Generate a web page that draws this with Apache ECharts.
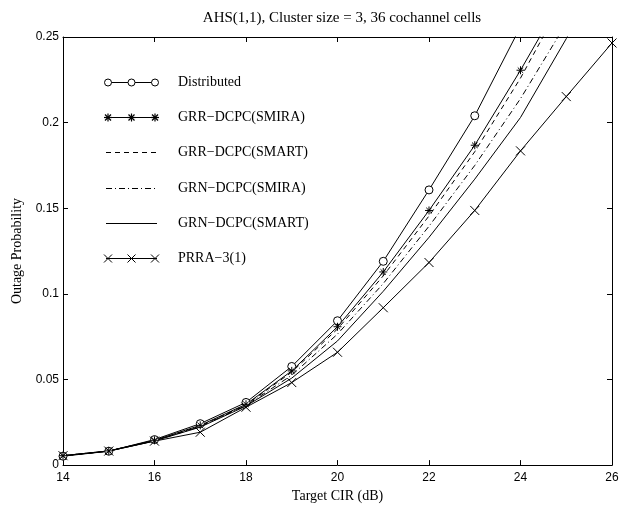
<!DOCTYPE html>
<html>
<head>
<meta charset="utf-8">
<script src="https://cdn.jsdelivr.net/npm/echarts@6/dist/echarts.min.js"></script>
<style>
html,body{margin:0;padding:0;background:#fff;}
#c{width:624px;height:508px;}
</style>
</head>
<body>
<div id="c"></div>
<script>
// ---- data ----
var cir = [14, 15, 16, 17, 18, 19, 20, 21, 22, 23, 24, 25, 26];
var xTicks = [14, 16, 18, 20, 22, 24, 26];
var yTicks = ['0', '0.05', '0.1', '0.15', '0.2', '0.25'];
var seriesNames = ['Distributed', 'GRR\u2212DCPC(SMIRA)', 'GRR\u2212DCPC(SMART)', 'GRN\u2212DCPC(SMIRA)', 'GRN\u2212DCPC(SMART)', 'PRRA\u22123(1)'];
var distributed = [0.0052, 0.0081, 0.0149, 0.0242, 0.0366, 0.0576, 0.0843, 0.119, 0.1607, 0.204, 0.256];
var grrSmira = [0.0055, 0.0083, 0.0145, 0.0232, 0.0355, 0.055, 0.0808, 0.1128, 0.1487, 0.1868, 0.2306, 0.277];
var grrSmart = [0.0055, 0.0083, 0.0143, 0.0228, 0.0352, 0.0543, 0.0795, 0.1105, 0.1455, 0.183, 0.226, 0.275];
var grnSmira = [0.0054, 0.0082, 0.0142, 0.0225, 0.0348, 0.0525, 0.0765, 0.106, 0.1395, 0.175, 0.214, 0.258];
var grnSmart = [0.0054, 0.0082, 0.0141, 0.0222, 0.0345, 0.0508, 0.0725, 0.1015, 0.133, 0.167, 0.203, 0.249, 0.30];
var prra = [0.0055, 0.0082, 0.014, 0.0192, 0.0338, 0.0482, 0.0659, 0.0919, 0.1183, 0.1487, 0.1835, 0.2152, 0.2465];

function pairs(vals) { return vals.map(function (v, i) { return [cir[i], v]; }); }

var STAR = 'path://M5,0L5,10M0,5L10,5M1.6,1.6L8.4,8.4M8.4,1.6L1.6,8.4';
var CROSS = 'path://M0,0L10,10M10,0L0,10';
var serif = '"Liberation Serif", "DejaVu Serif", serif';
var sans = '"Liberation Sans", Arial, sans-serif';

function mkSeries(name, vals, symbol, size, dash) {
  var isCircle = symbol === 'circle';
  return {
    name: name, type: 'line', data: pairs(vals),
    xAxisIndex: 0, yAxisIndex: 0,
    clip: true, animation: false, silent: true,
    lineStyle: { color: '#000', width: 1, type: dash || 'solid' },
    symbol: symbol || 'none', symbolSize: size || 7, showAllSymbol: true,
    itemStyle: isCircle ? { color: '#fff', borderColor: '#000', borderWidth: 1 }
                        : { color: 'rgba(0,0,0,0)', borderColor: '#000', borderWidth: 1 }
  };
}

var series = [
  mkSeries(seriesNames[0], distributed, 'circle', 8),
  mkSeries(seriesNames[1], grrSmira, STAR, 8),
  mkSeries(seriesNames[2], grrSmart, 'none', 0, [5, 4]),
  mkSeries(seriesNames[3], grnSmira, 'none', 0, [6, 3, 1, 3]),
  mkSeries(seriesNames[4], grnSmart, 'none', 0),
  mkSeries(seriesNames[5], prra, CROSS, 9)
];

// ---- legend drawn as graphic (three markers per line like the original) ----
var legendGraphics = [];
var lx0 = 106, lx1 = 157, ltx = 178, ly0 = 82, lstep = 35.2;
var kinds = ['circle', 'star', 'dash', 'dashdot', 'solid', 'cross'];
function seg(x1, y1, x2, y2, w) {
  return { type: 'line', shape: { x1: x1, y1: y1, x2: x2, y2: y2 },
    style: { stroke: '#000', lineWidth: w || 1 }, silent: true, z: 10 };
}
kinds.forEach(function (k, i) {
  var y = Math.round(ly0 + i * lstep) + 0.5;
  var dash = k === 'dash' ? [5, 4] : (k === 'dashdot' ? [6, 3, 1, 3] : null);
  legendGraphics.push({ type: 'line', shape: { x1: lx0, y1: y, x2: lx1, y2: y },
    style: { stroke: '#000', lineWidth: 1, lineDash: dash }, silent: true, z: 10 });
  if (k === 'circle' || k === 'star' || k === 'cross') {
    [lx0 + 2, (lx0 + lx1) / 2, lx1 - 2].forEach(function (mx) {
      if (k === 'circle') {
        legendGraphics.push({ type: 'circle', shape: { cx: mx, cy: y, r: 3.5 },
          style: { stroke: '#000', fill: '#fff', lineWidth: 1 }, silent: true, z: 11 });
      } else if (k === 'cross') {
        legendGraphics.push(seg(mx - 4, y - 4, mx + 4, y + 4));
        legendGraphics.push(seg(mx + 4, y - 4, mx - 4, y + 4));
      } else {
        legendGraphics.push(seg(mx, y - 4, mx, y + 4, 1.2));
        legendGraphics.push(seg(mx - 4, y, mx + 4, y, 1.2));
        legendGraphics.push(seg(mx - 3, y - 3, mx + 3, y + 3, 1.2));
        legendGraphics.push(seg(mx + 3, y - 3, mx - 3, y + 3, 1.2));
      }
    });
  }
  legendGraphics.push({ type: 'text', x: ltx, y: y, silent: true, z: 10,
    style: { text: seriesNames[i], font: '14px ' + serif, fill: '#000', verticalAlign: 'middle' } });
});

var axisCommon = {
  type: 'value', splitLine: { show: false },
  axisLine: { show: true, onZero: false, lineStyle: { color: '#000', width: 1 } },
  axisTick: { show: true, inside: true, length: 5, lineStyle: { color: '#000' } },
  minorTick: { show: false }
};

var option = {
  animation: false,
  backgroundColor: '#fff',
  title: {
    text: 'AHS(1,1), Cluster size = 3, 36 cochannel cells',
    left: 337, top: 6, textAlign: 'center',
    textStyle: { fontFamily: serif, fontSize: 15, fontWeight: 'normal', color: '#000' }
  },
  grid: { left: 63, right: 12, top: 37, bottom: 39, containLabel: false },
  xAxis: [
    Object.assign({}, axisCommon, {
      position: 'bottom', min: 14, max: 26, interval: 2,
      name: 'Target CIR (dB)', nameLocation: 'middle', nameGap: 22,
      nameTextStyle: { fontFamily: serif, fontSize: 14, color: '#000' },
      axisLabel: { show: true, margin: 7, color: '#000', fontFamily: sans, fontSize: 12,
        formatter: function (v) { return xTicks.indexOf(v) >= 0 ? String(v) : ''; } }
    }),
    Object.assign({}, axisCommon, {
      position: 'top', min: 14, max: 26, interval: 2, axisLabel: { show: false }
    })
  ],
  yAxis: [
    Object.assign({}, axisCommon, {
      position: 'left', min: 0, max: 0.25, interval: 0.05,
      name: 'Outage Probability', nameLocation: 'middle', nameGap: 37, nameRotate: 90,
      nameTextStyle: { fontFamily: serif, fontSize: 14, color: '#000' },
      axisLabel: { show: true, margin: 4, color: '#000', fontFamily: sans, fontSize: 12,
        formatter: function (v) { return yTicks[Math.round(v / 0.05)]; } }
    }),
    Object.assign({}, axisCommon, {
      position: 'right', min: 0, max: 0.25, interval: 0.05, axisLabel: { show: false }
    })
  ],
  graphic: legendGraphics,
  series: series
};

var chart = echarts.init(document.getElementById('c'), null, { renderer: 'canvas' });
chart.setOption(option);
</script>
</body>
</html>
